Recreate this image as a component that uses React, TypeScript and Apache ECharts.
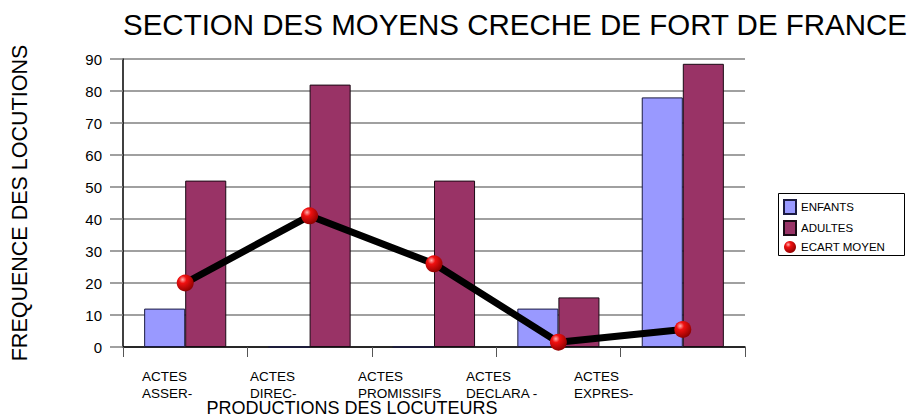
import React, { useEffect, useRef } from "react";
import * as echarts from "echarts";

const categories = ["ACTES\nASSER-", "ACTES\nDIREC-", "ACTES\nPROMISSIFS", "ACTES\nDECLARA -", "ACTES\nEXPRES-"];
const enfants = [12, 0, 0, 12, 78];
const adultes = [52, 82, 52, 15.5, 88.5];
const ecartMoyen = [20, 41, 26, 1.5, 5.5];
const yTicks = { min: 0, max: 90, interval: 10 };
const xAxisTitle = "PRODUCTIONS DES LOCUTEURS";

const FONT = "'Liberation Sans', Arial, sans-serif";

export default function App() {
  const ref = useRef<HTMLDivElement>(null);
  useEffect(() => {
    if (!ref.current) return;
    const chart = echarts.init(ref.current, undefined, { renderer: "svg" });
    const sphere = new echarts.graphic.RadialGradient(0.35, 0.3, 0.75, [
      { offset: 0, color: "#ffb0b0" },
      { offset: 0.3, color: "#f01010" },
      { offset: 1, color: "#8a0000" },
    ]);
    chart.setOption({
      animation: false,
      textStyle: { fontFamily: FONT },
      title: {
        text: "SECTION DES MOYENS CRECHE DE FORT DE FRANCE",
        left: 123,
        top: 9,
        padding: 0,
        textStyle: { fontSize: 29.5, fontWeight: "normal", color: "#000", fontFamily: FONT },
      },
      graphic: [
        {
          type: "rect",
          shape: { x: 778.5, y: 193.5, width: 126, height: 62 },
          style: { fill: "none", stroke: "#000", lineWidth: 1 },
          silent: true,
        },
        {
          type: "text",
          x: 352,
          y: 408,
          silent: true,
          style: {
            text: xAxisTitle,
            fill: "#000",
            font: "18px 'Liberation Sans', Arial, sans-serif",
            textAlign: "center",
            textVerticalAlign: "middle",
          },
        },
      ],
      legend: {
        orient: "vertical",
        left: 778,
        top: 193,
        padding: [6, 5, 5, 5],
        itemWidth: 12,
        itemHeight: 14,
        itemGap: 5,
        borderWidth: 0,
        textStyle: { fontSize: 11.5, color: "#000", fontFamily: FONT },
        data: [
          { name: "ENFANTS", icon: "rect" },
          { name: "ADULTES", icon: "rect" },
          { name: "ECART MOYEN", icon: "circle" },
        ],
      },
      grid: [
        { left: 123, right: 164, top: 59, bottom: 70, containLabel: false, outerBoundsMode: "none" },
        { left: 88, width: 540, top: 59, bottom: 70, containLabel: false, outerBoundsMode: "none" },
      ],
      xAxis: [
        {
          type: "category",
          gridIndex: 0,
          data: categories,
          axisLine: { lineStyle: { color: "#000", width: 1.5 } },
          axisTick: { show: true, length: 10, lineStyle: { color: "#555" } },
          axisLabel: { show: false },
        },
        {
          type: "category",
          gridIndex: 1,
          data: categories,
          axisLine: { show: false },
          axisTick: { show: false },
          axisLabel: {
            interval: 0,
            align: "left",
            verticalAlign: "top",
            margin: 21,
            fontSize: 13.5,
            lineHeight: 17,
            color: "#000",
            fontFamily: FONT,
          },
        },
      ],
      yAxis: [
        {
          type: "value",
          gridIndex: 0,
          min: yTicks.min,
          max: yTicks.max,
          interval: yTicks.interval,
          axisLine: { show: true, lineStyle: { color: "#000", width: 1.5 } },
          axisTick: { show: true, length: 13, lineStyle: { color: "#808080", width: 1.5 } },
          axisLabel: { margin: 21, fontSize: 15, color: "#000", fontFamily: FONT },
          splitLine: { lineStyle: { color: "#808080", width: 1.5 } },
          name: "FREQUENCE DES LOCUTIONS",
          nameLocation: "middle",
          nameGap: 92,
          nameTextStyle: { fontSize: 21.5, color: "#000", fontFamily: FONT },
        },
        {
          type: "value",
          gridIndex: 1,
          show: false,
          min: yTicks.min,
          max: yTicks.max,
        },
      ],
      series: [
        {
          name: "ENFANTS",
          type: "bar",
          data: enfants,
          barGap: "0%",
          barCategoryGap: "34%",
          itemStyle: { color: "#9999FF", borderColor: "#1a1a40", borderWidth: 1 },
        },
        {
          name: "ADULTES",
          type: "bar",
          data: adultes,
          barGap: "0%",
          barCategoryGap: "34%",
          itemStyle: { color: "#993366", borderColor: "#1a0a14", borderWidth: 1 },
        },
        {
          name: "ECART MOYEN",
          type: "line",
          data: ecartMoyen,
          z: 5,
          symbol: "circle",
          symbolSize: 17,
          lineStyle: { color: "#000", width: 7 },
          itemStyle: { color: sphere, borderWidth: 0 },
        },
      ],
    });
    return () => chart.dispose();
  }, []);
  return <div ref={ref} style={{ width: 909, height: 417, position: "absolute", left: 0, top: 0 }} />;
}
